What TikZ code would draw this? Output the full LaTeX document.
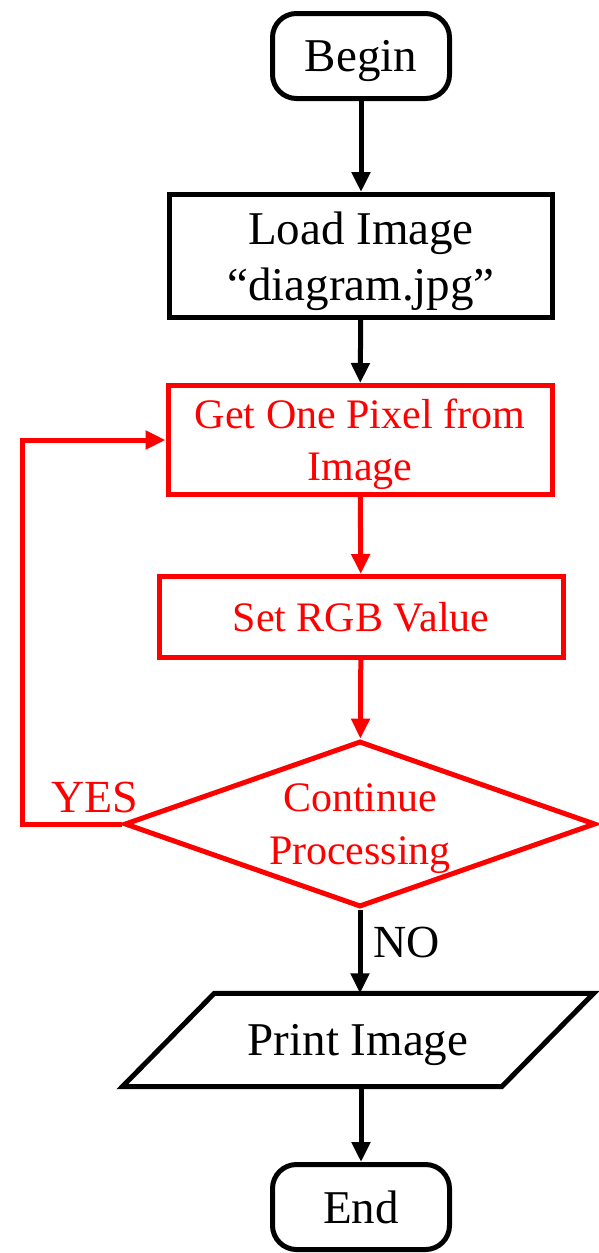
\documentclass[tikz,border=0pt]{standalone}
\usepackage{fontspec}
\setmainfont{Liberation Serif}
\usetikzlibrary{shapes.geometric,arrows.meta}
\begin{document}
\begin{tikzpicture}[x=1pt,y=-1pt,
  every node/.style={font=\fontsize{47}{56}\selectfont,align=center,inner sep=0pt,text depth=0pt},
  terminal/.style={draw,line width=5pt,rounded corners=24pt,minimum width=177pt,minimum height=85pt},
  procbox/.style={draw,line width=5pt},
  redbox/.style={procbox,draw=red,text=red,font=\fontsize{42}{52}\selectfont},
  flow/.style={line width=5pt,-{Triangle[length=20pt,width=18pt]}},
  redflow/.style={flow,red}]
  \useasboundingbox (0,0) rectangle (598,1253);
  % Start and load
  \node[terminal] (begin) at (361,56) {Begin};
  \node[procbox,minimum width=383pt,minimum height=123pt] (load) at (361,256) {Load Image\\“diagram.jpg”};
  % Pixel loop
  \node[redbox,minimum width=384pt,minimum height=109pt] (pixel) at (360,440) {Get One Pixel from\\Image};
  \node[redbox,minimum width=404pt,minimum height=81pt] (rgb) at (361,617) {Set RGB Value};
  \node[diamond,aspect=2.8,draw=red,line width=5pt,text=red,font=\fontsize{42}{53}\selectfont,
        minimum width=471pt,minimum height=166pt] (cont) at (360,824) {Continue\\Processing};
  % Output and end
  \node[minimum width=471pt,minimum height=93pt] (print) at (358,1040) {Print Image};
  \draw[line width=5pt] (print.south west) -- ([xshift=-92pt]print.south east)
    -- (print.north east) -- ([xshift=92pt]print.north west) -- cycle;
  \node[terminal] (end) at (361,1207) {End};
  % Connectors
  \draw[flow] (begin) -- (load);
  \draw[flow] (load) -- (pixel);
  \draw[redflow] (pixel) -- (rgb);
  \draw[redflow] (rgb) -- (cont);
  \draw[flow] (cont.south) -- (print.north -| cont.south);
  \draw[flow] (print.south -| end.north) -- (end);
  \coordinate (loopturn) at (22,824);
  \draw[redflow] (cont.west) -- (loopturn) |- (pixel.west);
  \node[text=red,font=\fontsize{46}{52}\selectfont] (yes) at (95,797) {YES};
  \node[font=\fontsize{46}{52}\selectfont] (no) at (407,942) {NO};
\end{tikzpicture}
\end{document}
